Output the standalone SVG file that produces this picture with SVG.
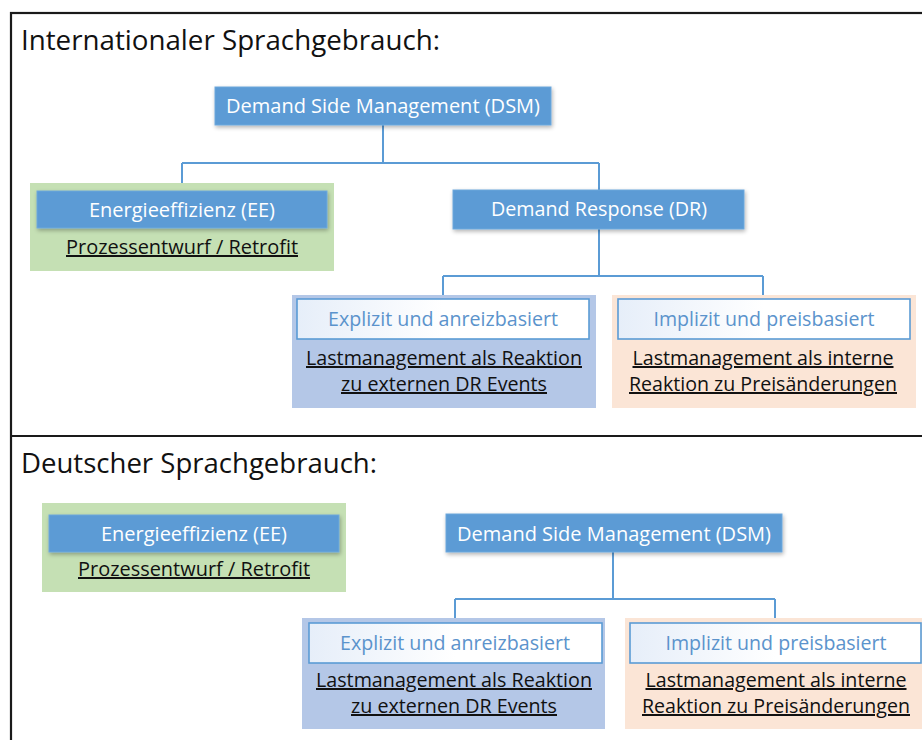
<svg xmlns="http://www.w3.org/2000/svg" width="922" height="740" viewBox="0 0 922 740">
  <style>
    text { font-family: "Open Sans", "Noto Sans", "Liberation Sans", sans-serif; }
    .title { font-size: 28px; fill: #111; }
    .head { fill: #5b9bd5; stroke: #6fa8dc; stroke-width: 1; }
    .head-t { font-size: 20px; fill: #ffffff; text-anchor: middle; }
    .sub { fill: url(#subFill); stroke: #5b9bd5; stroke-width: 1.6; }
    .sub-t { font-size: 20px; fill: #5b93cc; text-anchor: middle; }
    .note { font-size: 20px; fill: #111; text-anchor: middle; text-decoration: underline; }
    .bg-green { fill: #c5e0b4; }
    .bg-blue { fill: #b4c7e7; }
    .bg-orange { fill: #fbe5d6; }
    .link { fill: none; stroke: #5b9bd5; stroke-width: 2; }
    .frame { fill: none; stroke: #1a1a1a; stroke-width: 2.2; }
  </style>
  <defs>
    <linearGradient id="subFill" x1="0" y1="0" x2="1" y2="0">
      <stop offset="0" stop-color="#e6eef9"/>
      <stop offset="0.5" stop-color="#ffffff"/>
      <stop offset="1" stop-color="#ffffff"/>
    </linearGradient>
    <filter id="shadow" x="-10%" y="-30%" width="120%" height="170%">
      <feGaussianBlur in="SourceAlpha" stdDeviation="2"/>
      <feOffset dx="1" dy="2" result="b"/>
      <feComponentTransfer><feFuncA type="linear" slope="0.3"/></feComponentTransfer>
      <feMerge><feMergeNode/><feMergeNode in="SourceGraphic"/></feMerge>
    </filter>
  </defs>

  <rect width="922" height="740" fill="#ffffff"/>

  <!-- outer frame and section divider -->
  <g id="frame">
    <rect class="frame" x="11" y="13" width="930" height="800"/>
    <line class="frame" x1="11" y1="436" x2="922" y2="436"/>
  </g>

  <text id="title-international" class="title" x="21" y="50" textLength="419" lengthAdjust="spacingAndGlyphs">Internationaler Sprachgebrauch:</text>
  <text id="title-german" class="title" x="21" y="473" textLength="356" lengthAdjust="spacingAndGlyphs">Deutscher Sprachgebrauch:</text>

  <!-- connectors -->
  <g id="connectors">
    <path class="link" d="M383 125 V163 M182 163 H599 M182 163 V191 M599 163 V190"/>
    <path class="link" d="M599 229 V276 M443 276 H763 M443 276 V299 M763 276 V299"/>
    <path class="link" d="M613 552 V599 M455 599 H775 M455 599 V623 M775 599 V623"/>
  </g>

  <!-- upper section -->
  <g id="dsm-int">
    <rect class="head" x="215" y="87" width="336" height="38" filter="url(#shadow)"/>
    <text class="head-t" x="383" y="113" textLength="314" lengthAdjust="spacingAndGlyphs">Demand Side Management (DSM)</text>
  </g>

  <g id="ee-int">
    <rect class="bg-green" x="30" y="183" width="304" height="88"/>
    <rect class="head" x="37" y="191" width="290" height="37" filter="url(#shadow)"/>
    <text class="head-t" x="182" y="217" textLength="186" lengthAdjust="spacingAndGlyphs">Energieeffizienz (EE)</text>
    <text class="note" x="182" y="254" textLength="232" lengthAdjust="spacingAndGlyphs">Prozessentwurf / Retrofit</text>
  </g>

  <g id="dr-int">
    <rect class="head" x="453" y="190" width="291" height="39" filter="url(#shadow)"/>
    <text class="head-t" x="599" y="216" textLength="216" lengthAdjust="spacingAndGlyphs">Demand Response (DR)</text>
  </g>

  <g id="explicit-int">
    <rect class="bg-blue" x="292" y="295" width="304" height="113"/>
    <rect class="sub" x="297" y="299" width="292" height="40"/>
    <text class="sub-t" x="443" y="326" textLength="230" lengthAdjust="spacingAndGlyphs">Explizit und anreizbasiert</text>
    <text class="note" x="444" y="365" textLength="276" lengthAdjust="spacingAndGlyphs">Lastmanagement als Reaktion</text>
    <text class="note" x="444" y="391" textLength="206" lengthAdjust="spacingAndGlyphs">zu externen DR Events</text>
  </g>

  <g id="implicit-int">
    <rect class="bg-orange" x="612" y="295" width="304" height="113"/>
    <rect class="sub" x="618" y="299" width="292" height="40"/>
    <text class="sub-t" x="764" y="326" textLength="221" lengthAdjust="spacingAndGlyphs">Implizit und preisbasiert</text>
    <text class="note" x="763" y="365" textLength="261" lengthAdjust="spacingAndGlyphs">Lastmanagement als interne</text>
    <text class="note" x="763" y="391" textLength="268" lengthAdjust="spacingAndGlyphs">Reaktion zu Preisänderungen</text>
  </g>

  <!-- lower section -->
  <g id="ee-de">
    <rect class="bg-green" x="42" y="503" width="304" height="89"/>
    <rect class="head" x="49" y="515" width="290" height="37" filter="url(#shadow)"/>
    <text class="head-t" x="194" y="541" textLength="186" lengthAdjust="spacingAndGlyphs">Energieeffizienz (EE)</text>
    <text class="note" x="194" y="576" textLength="232" lengthAdjust="spacingAndGlyphs">Prozessentwurf / Retrofit</text>
  </g>

  <g id="dsm-de">
    <rect class="head" x="446" y="514" width="336" height="38" filter="url(#shadow)"/>
    <text class="head-t" x="614" y="541" textLength="314" lengthAdjust="spacingAndGlyphs">Demand Side Management (DSM)</text>
  </g>

  <g id="explicit-de">
    <rect class="bg-blue" x="302" y="618" width="303" height="111"/>
    <rect class="sub" x="309" y="623" width="293" height="40"/>
    <text class="sub-t" x="455" y="650" textLength="230" lengthAdjust="spacingAndGlyphs">Explizit und anreizbasiert</text>
    <text class="note" x="454" y="687" textLength="276" lengthAdjust="spacingAndGlyphs">Lastmanagement als Reaktion</text>
    <text class="note" x="454" y="713" textLength="206" lengthAdjust="spacingAndGlyphs">zu externen DR Events</text>
  </g>

  <g id="implicit-de">
    <rect class="bg-orange" x="625" y="618" width="310" height="111"/>
    <rect class="sub" x="630" y="623" width="291" height="40"/>
    <text class="sub-t" x="776" y="650" textLength="221" lengthAdjust="spacingAndGlyphs">Implizit und preisbasiert</text>
    <text class="note" x="776" y="687" textLength="261" lengthAdjust="spacingAndGlyphs">Lastmanagement als interne</text>
    <text class="note" x="776" y="713" textLength="268" lengthAdjust="spacingAndGlyphs">Reaktion zu Preisänderungen</text>
  </g>
</svg>
